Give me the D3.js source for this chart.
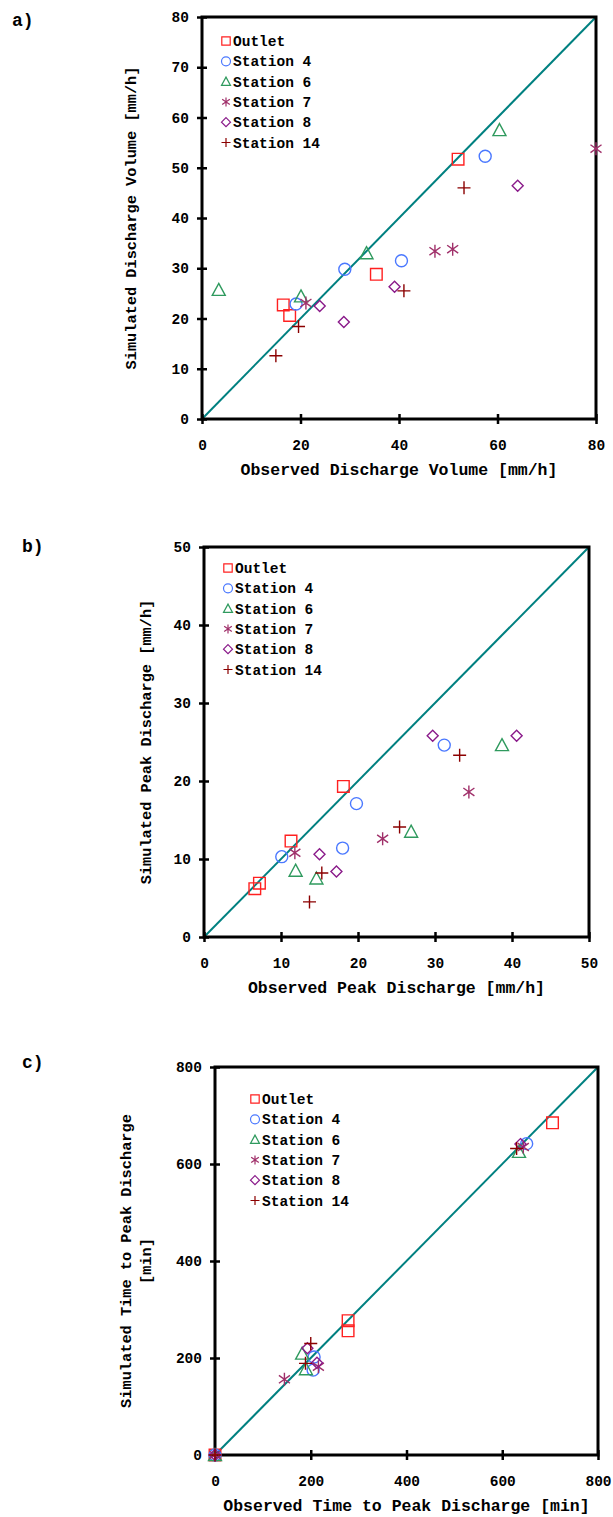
<!DOCTYPE html>
<html>
<head>
<meta charset="utf-8">
<script src="https://cdn.jsdelivr.net/npm/d3@7"></script>
<style>
  body { margin: 0; background: #fff; }
</style>
</head>
<body>
<svg id="chart" width="613" height="1517"></svg>
<script>
// series names shared by all three panels
const seriesNames = ["Outlet", "Station 4", "Station 6", "Station 7", "Station 8", "Station 14"];

// a) discharge volume, [observed, simulated]
const volOutlet = [[52.0, 51.7], [35.4, 28.8], [16.5, 22.7], [17.8, 20.6]];
const volSt4 = [[57.5, 52.3], [29.0, 29.8], [40.5, 31.5], [19.1, 22.9]];
const volSt6 = [[60.4, 57.5], [33.4, 33.0], [3.4, 25.7], [20.1, 24.4]];
const volSt7 = [[80.0, 53.8], [47.3, 33.4], [50.9, 33.8], [21.1, 23.1]];
const volSt8 = [[64.1, 46.4], [39.1, 26.3], [23.9, 22.5], [28.8, 19.3]];
const volSt14 = [[53.2, 46.0], [41.0, 25.5], [19.6, 18.4], [15.0, 12.6]];

// b) peak discharge
const peakOutlet = [[18.1, 19.3], [11.3, 12.3], [7.2, 6.9], [6.6, 6.2]];
const peakSt4 = [[31.2, 24.6], [19.8, 17.1], [18.0, 11.4], [10.1, 10.3]];
const peakSt6 = [[38.7, 24.6], [26.9, 13.5], [11.9, 8.5], [14.6, 7.5]];
const peakSt7 = [[34.4, 18.6], [23.2, 12.6], [11.8, 10.8]];
const peakSt8 = [[29.7, 25.8], [40.6, 25.8], [15.0, 10.6], [17.2, 8.4]];
const peakSt14 = [[33.2, 23.3], [25.4, 14.1], [15.3, 8.2], [13.7, 4.5]];

// c) time to peak discharge
const timeOutlet = [[705, 685], [278, 277], [278, 256], [0, 0]];
const timeSt4 = [[651, 642], [207, 202], [205, 175], [0, 0]];
const timeSt6 = [[635, 625], [182, 209], [190, 177], [0, 0]];
const timeSt7 = [[644, 635], [216, 182], [145, 156], [0, 0]];
const timeSt8 = [[638, 641], [193, 220], [213, 190], [0, 0]];
const timeSt14 = [[630, 632], [200, 230], [189, 189], [0, 0]];

const volTicks = [0, 20, 40, 60, 80];
const volYTicks = [0, 10, 20, 30, 40, 50, 60, 70, 80];
const peakTicks = [0, 10, 20, 30, 40, 50];
const timeTicks = [0, 200, 400, 600, 800];

const colors = ["#ff2020", "#4a78ff", "#2f9a5e", "#a0306a", "#8a1a8a", "#8b0000"];
const FONT = "'Liberation Mono', 'Courier New', 'DejaVu Sans Mono', monospace";

// marker shapes, s = half size
function shape(i, s) {
  if (i === 0) return `M${-s},${-s}h${2*s}v${2*s}h${-2*s}Z`;
  if (i === 1) { const p = d3.path(); p.arc(0, 0, s, 0, 2 * Math.PI); return p.toString(); }
  if (i === 2) return `M0,${-s}L${s},${s*0.85}L${-s},${s*0.85}Z`;
  if (i === 3) return `M0,${-s}V${s}M${-s*0.85},${-s*0.6}L${s*0.85},${s*0.6}M${-s*0.85},${s*0.6}L${s*0.85},${-s*0.6}`;
  if (i === 4) return `M0,${-s}L${s},0L0,${s}L${-s},0Z`;
  return `M${-s},0H${s}M0,${-s}V${s}`;
}
const markerSize = [5.8, 6, 6.5, 6.5, 5.5, 6.5];

const panels = [
  {
    label: "a)", labelX: 12, labelY: 26,
    left: 202, right: 596, top: 17, bottom: 419,
    max: 80, xTicks: volTicks, yTicks: volYTicks,
    xTitle: "Observed Discharge Volume [mm/h]",
    yTitle: ["Simulated Discharge Volume [mm/h]"], yTitleX: [136],
    legendX: 226, legendY: 41,
    series: [volOutlet, volSt4, volSt6, volSt7, volSt8, volSt14]
  },
  {
    label: "b)", labelX: 22, labelY: 552,
    left: 204, right: 589, top: 547, bottom: 937,
    max: 50, xTicks: peakTicks, yTicks: peakTicks,
    xTitle: "Observed Peak Discharge [mm/h]",
    yTitle: ["Simulated Peak Discharge [mm/h]"], yTitleX: [151],
    legendX: 228, legendY: 568,
    series: [peakOutlet, peakSt4, peakSt6, peakSt7, peakSt8, peakSt14]
  },
  {
    label: "c)", labelX: 22, labelY: 1068,
    left: 215, right: 598, top: 1067, bottom: 1455,
    max: 800, xTicks: timeTicks, yTicks: timeTicks,
    xTitle: "Observed Time to Peak Discharge [min]",
    yTitle: ["Simulated Time to Peak Discharge", "[min]"], yTitleX: [131, 151],
    legendX: 255, legendY: 1099,
    series: [timeOutlet, timeSt4, timeSt6, timeSt7, timeSt8, timeSt14]
  }
];

const svg = d3.select("#chart");

function txt(sel, size) {
  return sel.style("font-family", FONT).style("font-weight", "bold")
    .style("font-size", size + "px").style("fill", "#000");
}

panels.forEach(function(p) {
  const x = d3.scaleLinear().domain([0, p.max]).range([p.left, p.right]);
  const y = d3.scaleLinear().domain([0, p.max]).range([p.bottom, p.top]);
  const g = svg.append("g");

  txt(g.append("text").attr("x", p.labelX).attr("y", p.labelY), 18).text(p.label);

  // 1:1 line
  g.append("line")
    .attr("x1", x(0)).attr("y1", y(0))
    .attr("x2", x(p.max)).attr("y2", y(p.max))
    .attr("stroke", "#008080").attr("stroke-width", 2);

  // frame
  g.append("rect")
    .attr("x", p.left).attr("y", p.top)
    .attr("width", p.right - p.left).attr("height", p.bottom - p.top)
    .attr("fill", "none").attr("stroke", "#000").attr("stroke-width", 3);

  // axes with ticks crossing the line
  const xAxis = g.append("g").attr("transform", `translate(0,${p.bottom})`)
    .call(d3.axisBottom(x).tickValues(p.xTicks).tickSize(5).tickPadding(16));
  xAxis.select(".domain").remove();
  xAxis.selectAll(".tick line").attr("y1", -5).attr("stroke-width", 2.5);
  txt(xAxis.selectAll(".tick text"), 14.5);

  const yAxis = g.append("g").attr("transform", `translate(${p.left},0)`)
    .call(d3.axisLeft(y).tickValues(p.yTicks).tickSize(5).tickPadding(8));
  yAxis.select(".domain").remove();
  yAxis.selectAll(".tick line").attr("x1", 5).attr("stroke-width", 2.5);
  txt(yAxis.selectAll(".tick text"), 14.5);

  // titles
  txt(g.append("text")
    .attr("x", (p.left + p.right) / 2).attr("y", p.bottom + 56)
    .attr("text-anchor", "middle"), 16.5)
    .text(p.xTitle);

  p.yTitle.forEach(function(t, k) {
    txt(g.append("text")
      .attr("transform", `translate(${p.yTitleX[k]},${(p.top + p.bottom) / 2}) rotate(-90)`)
      .attr("text-anchor", "middle"), 15.3)
      .text(t);
  });

  // markers
  p.series.forEach(function(data, i) {
    g.selectAll(null)
      .data(data)
      .enter().append("path")
      .attr("transform", d => `translate(${x(d[0])},${y(d[1])})`)
      .attr("d", shape(i, markerSize[i]))
      .attr("fill", "none")
      .attr("stroke", colors[i])
      .attr("stroke-width", 1.4);
  });

  // legend
  const leg = g.selectAll(".leg")
    .data(seriesNames)
    .enter().append("g")
    .attr("transform", (d, i) => `translate(${p.legendX},${p.legendY + i * 20.3})`);
  leg.append("path")
    .attr("d", (d, i) => shape(i, i === 0 ? 4.2 : 4.5))
    .attr("fill", "none")
    .attr("stroke", (d, i) => colors[i])
    .attr("stroke-width", 1.2);
  txt(leg.append("text").attr("x", 7).attr("y", 5), 14.5)
    .text(d => d);
});
</script>
</body>
</html>
